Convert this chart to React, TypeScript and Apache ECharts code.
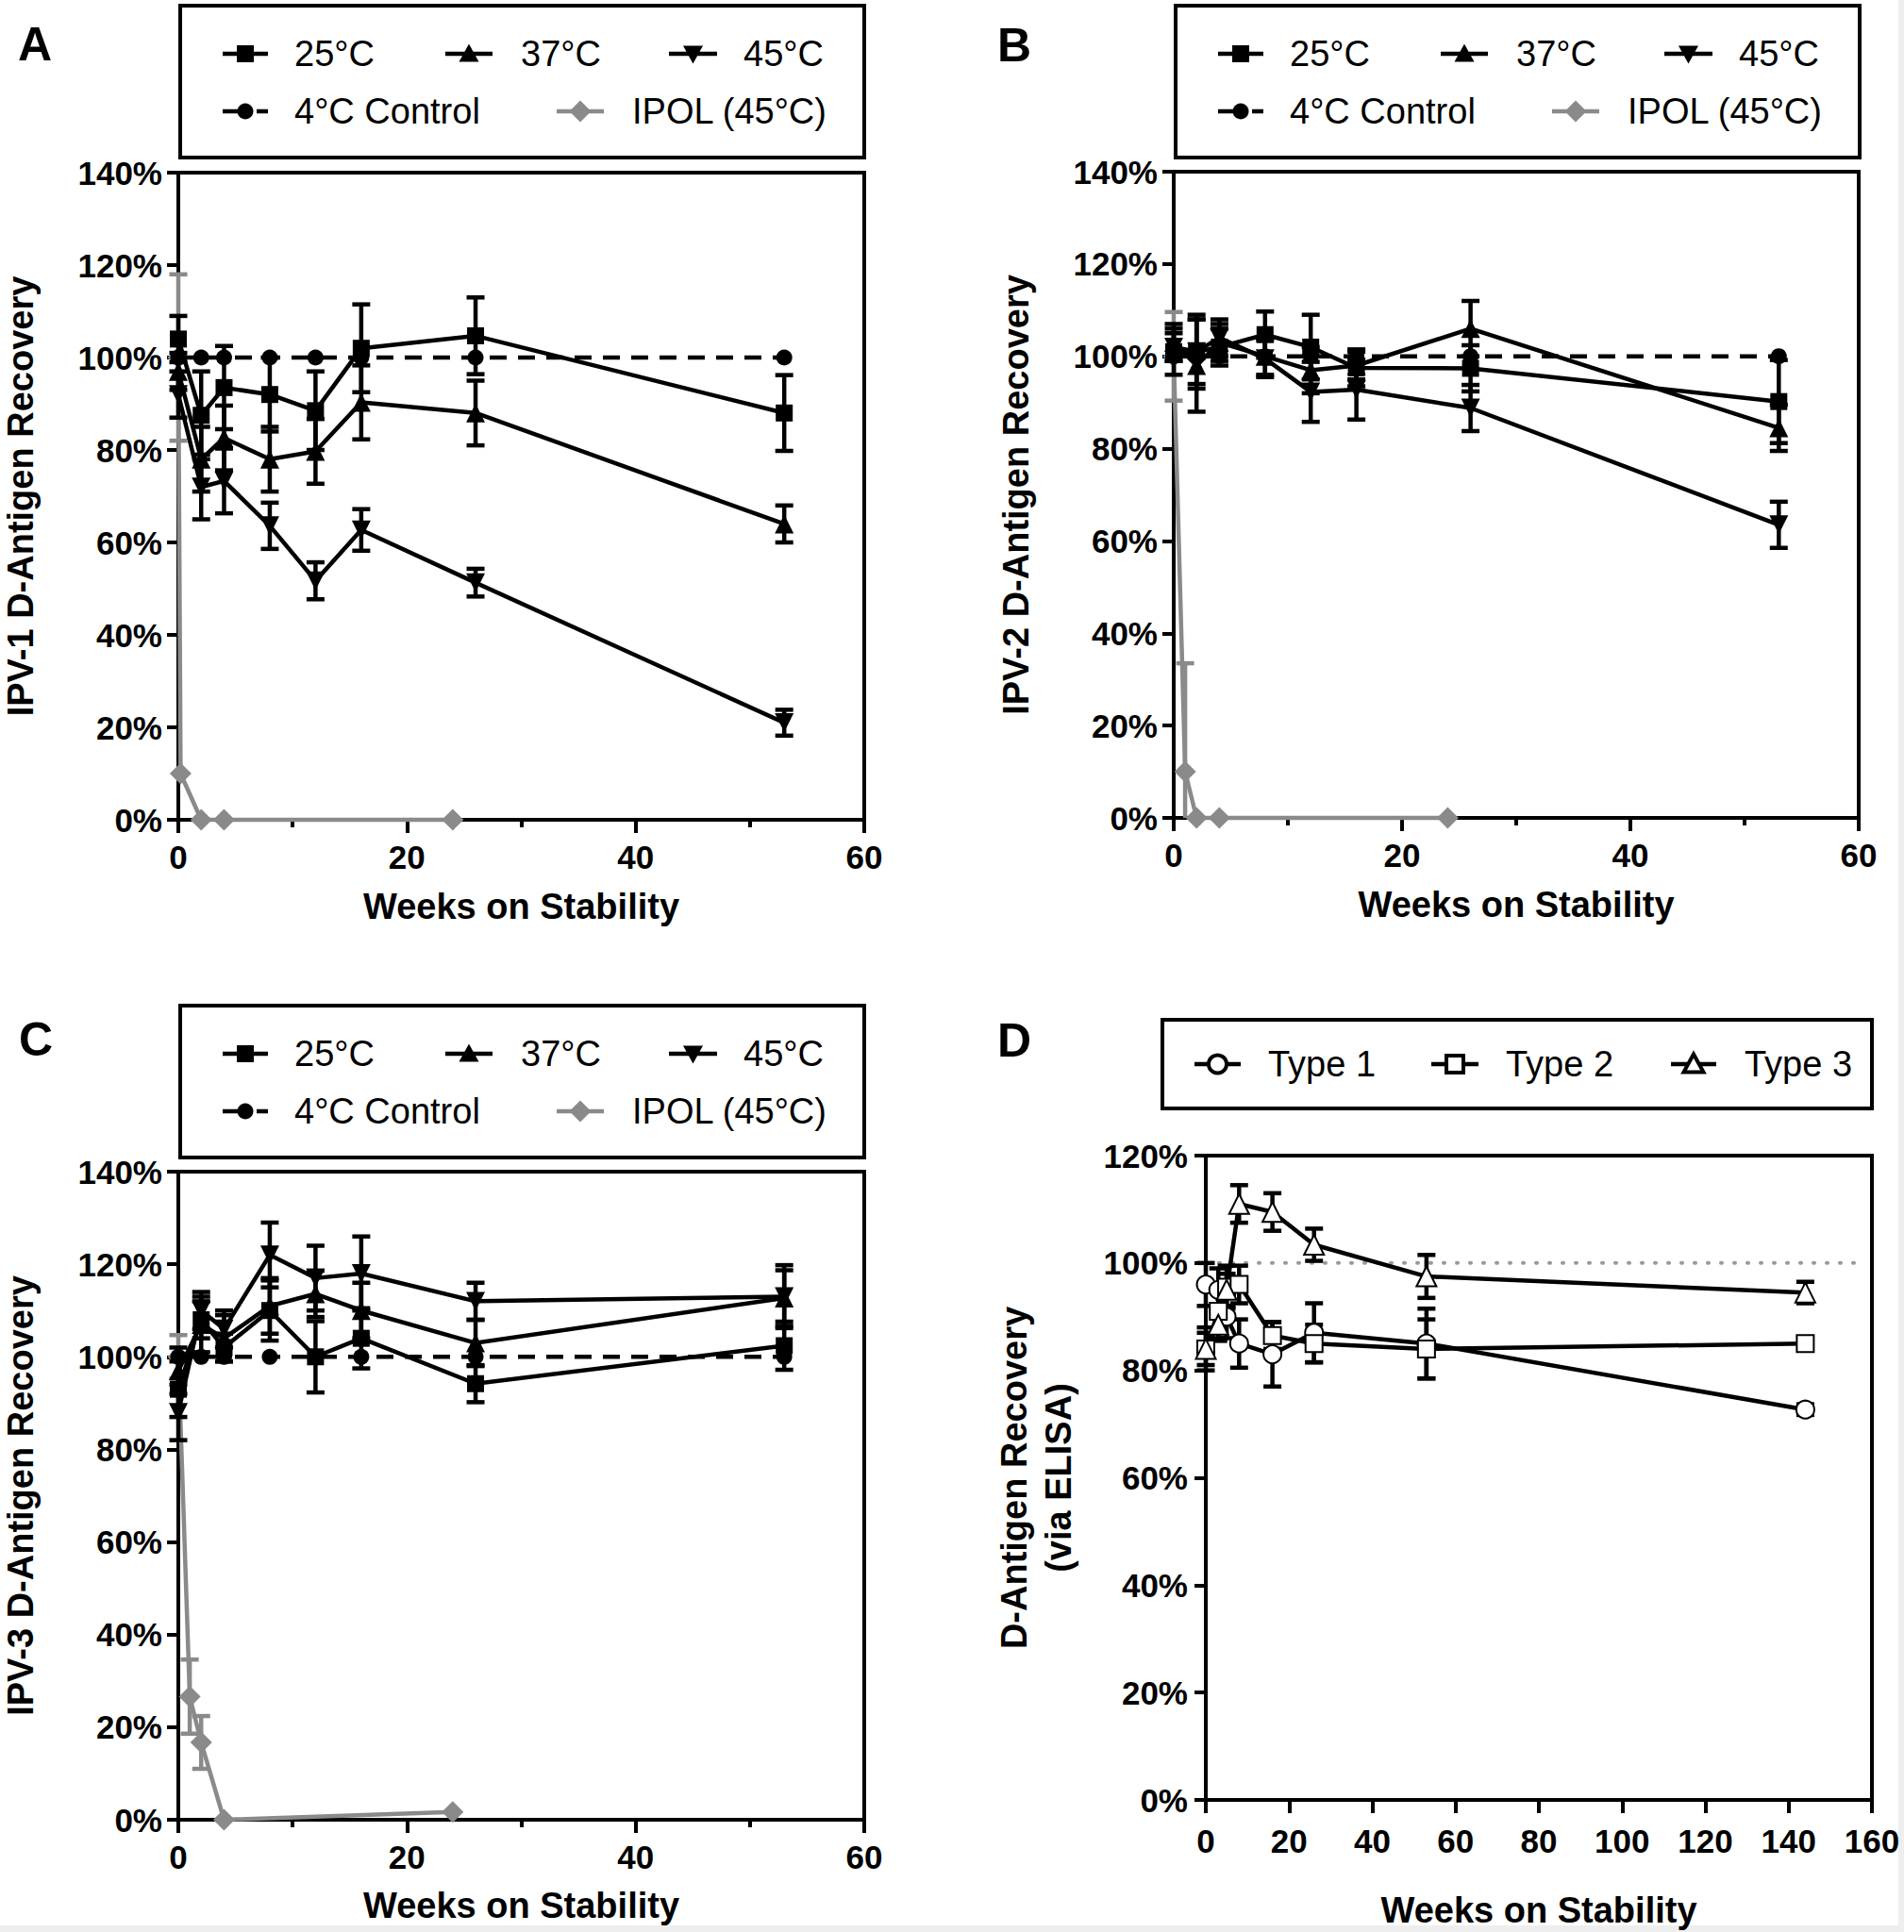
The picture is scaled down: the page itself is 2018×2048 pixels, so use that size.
import React, { useEffect, useRef } from 'react';
import * as echarts from 'echarts';

const FONT = '"Liberation Sans", Arial, Helvetica, sans-serif';
const GRAY = '#8a8a8a';
const BLACK = '#000';

// ---------- Axis ticks ----------
const xTicksABC = [0, 20, 40, 60];
const yTicksABC = [0, 20, 40, 60, 80, 100, 120, 140];
const xTicksD = [0, 20, 40, 60, 80, 100, 120, 140, 160];
const yTicksD = [0, 20, 40, 60, 80, 100, 120];

// ---------- Panel A: IPV-1 ----------
const weeksA = [0, 2, 4, 8, 12, 16, 26, 53];
const a25 = [104, 87.5, 93.5, 92, 88.5, 102, 104.7, 88];
const a25Err = [5, 9.5, 9, 8, 8.5, 9.5, 8.3, 8.2];
const a37 = [97, 78, 82.6, 78, 79.7, 90.3, 88, 64];
const a37Err = [4, 7, 7, 7, 7, 8, 7, 4];
const a45 = [92, 72, 73.3, 63.6, 51.7, 62.7, 51.3, 21];
const a45Err = [5, 7, 7, 5, 4, 4.5, 3, 2.8];
const aCtrl = [100, 100, 100, 100, 100, 100, 100, 100];
const ipolWeeksA = [0, 0.2, 2, 4, 24];
const aIpol = [100, 10, 0, 0, 0];
const aIpolErr = [18, 0, 0, 0, 0];

// ---------- Panel B: IPV-2 ----------
const weeksB = [0, 2, 4, 8, 12, 16, 26, 53];
const b25 = [101, 101, 102, 104.7, 102, 97.5, 97.4, 90.2];
const b25Err = [5, 7, 4, 5, 7, 4, 5, 9];
const b37 = [103, 98, 103, 100, 97, 98, 106, 84.5];
const b37Err = [4, 10, 4, 4, 5, 3, 6, 5];
const b45 = [102, 101, 104, 99.5, 92.3, 92.8, 88.8, 63.5];
const b45Err = [3, 8, 4, 4, 6.5, 6.5, 5, 5];
const bCtrl = [100, 100, 100, 100, 100, 100, 100, 100];
const ipolWeeksB = [0, 1, 2, 4, 24];
const bIpol = [100, 10, 0, 0, 0];
const bIpolErr = [9.6, 23.5, 0, 0, 0];

// ---------- Panel C: IPV-3 ----------
const weeksC = [0, 2, 4, 8, 12, 16, 26, 53];
const c25 = [93, 108, 102, 110, 100, 104, 94.2, 102.4];
const c25Err = [6, 4, 3, 6.5, 7.7, 6.5, 4, 5.2];
const c37 = [97, 107, 104, 111, 113.6, 110, 103, 112.7];
const c37Err = [5, 6, 5, 6, 5, 6, 5, 6];
const c45 = [88, 110, 106, 122, 117, 118, 112, 113];
const c45Err = [6, 4, 4, 7, 7, 8, 4, 6.8];
const cCtrl = [100, 100, 100, 100, 100, 100, 100, 100];
const ipolWeeksC = [0, 1, 2, 4, 24];
const cIpol = [100, 26.6, 16.7, 0, 1.7];
const cIpolErr = [4.7, 8, 5.7, 0, 0];

// ---------- Panel D: ELISA ----------
const weeksD = [0, 3, 5, 8, 16, 26, 53, 144];
const dType1 = [96, 95, 90, 85, 83, 87, 85, 72.7];
const dType1Err = [4, 4, 4, 4.5, 6, 5.5, 6.5, 1];
const dType2 = [84, 91, 95.5, 96, 86.5, 85, 84, 85];
const dType2Err = [4, 5, 4, 3.5, 2.5, 3.5, 5.5, 1];
const dType3 = [84, 88.5, 95, 111, 109.5, 103.4, 97.5, 94.5];
const dType3Err = [3, 3, 3, 3.5, 3.5, 3, 4, 2];
const refWeeksD = [0, 158];
const refD = [100, 100];

// ---------- Layout ----------
const grids = [
  { left: 189, top: 183, width: 727, height: 686 },
  { left: 1244, top: 182, width: 726, height: 685 },
  { left: 189, top: 1242, width: 727, height: 687 },
  { left: 1278, top: 1225, width: 706, height: 683 },
];

const LW = 4.5;

function errSeries(idx: number, weeks: number[], vals: number[], errs: number[], color: string, z: number) {
  const data = weeks.map((w, i) => [w, vals[i], errs[i]]).filter((d) => d[2] > 0);
  return {
    type: 'custom',
    xAxisIndex: idx,
    yAxisIndex: idx,
    z,
    silent: true,
    clip: false,
    data,
    encode: { x: 0, y: 1 },
    renderItem: (params: any, api: any) => {
      const x = api.value(0);
      const v = api.value(1);
      const e = api.value(2);
      const hi = api.coord([x, v + e]);
      const lo = api.coord([x, Math.max(0, v - e)]);
      const hw = 9.5;
      const style = { stroke: color, lineWidth: LW };
      const children: any[] = [
        { type: 'line', shape: { x1: hi[0], y1: hi[1], x2: lo[0], y2: lo[1] }, style },
        { type: 'line', shape: { x1: hi[0] - hw, y1: hi[1], x2: hi[0] + hw, y2: hi[1] }, style },
      ];
      if (v - e >= 0) {
        children.push({ type: 'line', shape: { x1: lo[0] - hw, y1: lo[1], x2: lo[0] + hw, y2: lo[1] }, style });
      }
      return { type: 'group', children };
    },
  };
}

function lineSeries(idx: number, name: string, weeks: number[], vals: number[], o: any) {
  return {
    type: 'line',
    name,
    xAxisIndex: idx,
    yAxisIndex: idx,
    z: o.z ?? 4,
    clip: false,
    data: weeks.map((w, i) => [w, vals[i]]),
    symbol: o.symbol,
    symbolSize: o.size,
    symbolRotate: o.rotate ?? 0,
    showAllSymbol: true,
    lineStyle: { color: o.color, width: o.width ?? LW, type: o.dash ?? 'solid', cap: o.cap ?? 'butt' },
    itemStyle: o.hollow
      ? { color: o.color, borderColor: o.color, borderWidth: 4 }
      : { color: o.color, borderWidth: 0 },
    emphasis: { disabled: true },
    silent: true,
  };
}

function tempPanel(
  idx: number, weeks: number[],
  s25: number[], e25: number[], s37: number[], e37: number[], s45: number[], e45: number[],
  ctrl: number[], iw: number[], ipol: number[], ipolErr: number[],
) {
  return [
    errSeries(idx, iw, ipol, ipolErr, GRAY, 1),
    lineSeries(idx, 'IPOL (45°C)', iw, ipol, { symbol: 'diamond', size: 23, color: GRAY, z: 2 }),
    errSeries(idx, weeks, s45, e45, BLACK, 3),
    errSeries(idx, weeks, s37, e37, BLACK, 3),
    errSeries(idx, weeks, s25, e25, BLACK, 3),
    lineSeries(idx, '4°C Control', weeks, ctrl, { symbol: 'circle', size: 17, color: BLACK, dash: [18, 12] }),
    lineSeries(idx, '45°C', weeks, s45, { symbol: 'triangle', size: 20, rotate: 180, color: BLACK }),
    lineSeries(idx, '37°C', weeks, s37, { symbol: 'triangle', size: 20, color: BLACK }),
    lineSeries(idx, '25°C', weeks, s25, { symbol: 'rect', size: 18, color: BLACK }),
  ];
}

function xAxisCfg(gridIndex: number, ticks: number[], nameGap: number, margin: number, minor: boolean) {
  return {
    type: 'value',
    gridIndex,
    min: ticks[0],
    max: ticks[ticks.length - 1],
    interval: ticks[1] - ticks[0],
    name: 'Weeks on Stability',
    nameLocation: 'middle',
    nameGap,
    nameTextStyle: { fontSize: 38, fontWeight: 'bold', color: BLACK, fontFamily: FONT },
    axisLine: { show: true, onZero: false, lineStyle: { color: BLACK, width: 4 } },
    axisTick: { show: true, length: 14, lineStyle: { color: BLACK, width: 4 } },
    minorTick: { show: minor, splitNumber: 2, length: 8, lineStyle: { color: BLACK, width: 4 } },
    splitLine: { show: false },
    minorSplitLine: { show: false },
    axisLabel: { margin, fontSize: 35, fontWeight: 'bold', color: BLACK, fontFamily: FONT },
  };
}

function yAxisCfg(gridIndex: number, ticks: number[], name: string, nameGap: number, margin: number) {
  return {
    type: 'value',
    gridIndex,
    min: ticks[0],
    max: ticks[ticks.length - 1],
    interval: ticks[1] - ticks[0],
    name,
    nameLocation: 'middle',
    nameGap,
    nameTextStyle: { fontSize: 38, fontWeight: 'bold', color: BLACK, fontFamily: FONT, lineHeight: 47 },
    axisLine: { show: true, onZero: false, lineStyle: { color: BLACK, width: 4 } },
    axisTick: { show: true, length: 12, lineStyle: { color: BLACK, width: 4 } },
    splitLine: { show: false },
    axisLabel: { margin, fontSize: 35, fontWeight: 'bold', color: BLACK, fontFamily: FONT, formatter: '{value}%' },
  };
}

// ---------- Legend drawing (graphic) ----------
function markerEl(kind: string, cx: number, cy: number, color: string, hollow = false): any {
  const style: any = hollow ? { fill: '#fff', stroke: color, lineWidth: 4 } : { fill: color };
  switch (kind) {
    case 'rect':
      return { type: 'rect', shape: { x: cx - 9, y: cy - 9, width: 18, height: 18 }, style };
    case 'circle':
      return { type: 'circle', shape: { cx, cy, r: hollow ? 9.5 : 8.5 }, style };
    case 'tri':
      return { type: 'polygon', shape: { points: [[cx, cy - 10.5], [cx + 10.5, cy + 8.5], [cx - 10.5, cy + 8.5]] }, style };
    case 'itri':
      return { type: 'polygon', shape: { points: [[cx, cy + 10.5], [cx + 10.5, cy - 8.5], [cx - 10.5, cy - 8.5]] }, style };
    case 'diamond':
      return { type: 'polygon', shape: { points: [[cx, cy - 11.5], [cx + 11.5, cy], [cx, cy + 11.5], [cx - 11.5, cy]] }, style };
    default:
      return { type: 'circle', shape: { cx, cy, r: 8 }, style };
  }
}

function legendItem(x1: number, x2: number, y: number, color: string, dash: any, kind: string, label: string, tx: number, hollow = false) {
  const els: any[] = [];
  const ls: any = { stroke: color, lineWidth: LW };
  if (dash) ls.lineDash = dash;
  els.push({ type: 'line', shape: { x1, y1: y, x2, y2: y }, style: ls, silent: true });
  els.push({ ...markerEl(kind, (x1 + x2) / 2, y, color, hollow), silent: true });
  els.push({
    type: 'text', x: tx, y, silent: true,
    style: { text: label, fontSize: 38, fontFamily: FONT, fill: BLACK, align: 'left', verticalAlign: 'middle' },
  });
  return els;
}

function tempLegend(ox: number, oy: number) {
  const r1 = oy + 57;
  const r2 = oy + 118;
  return [
    { type: 'rect', silent: true, shape: { x: ox + 191, y: oy + 6, width: 725, height: 161 }, style: { fill: '#fff', stroke: BLACK, lineWidth: 4 } },
    ...legendItem(ox + 236, ox + 284, r1, BLACK, null, 'rect', '25°C', ox + 312),
    ...legendItem(ox + 472, ox + 522, r1, BLACK, null, 'tri', '37°C', ox + 552),
    ...legendItem(ox + 709, ox + 760, r1, BLACK, null, 'itri', '45°C', ox + 788),
    ...legendItem(ox + 236, ox + 284, r2, BLACK, [16, 20], 'circle', '4°C Control', ox + 312),
    ...legendItem(ox + 590, ox + 640, r2, GRAY, null, 'diamond', 'IPOL (45°C)', ox + 670),
  ];
}

function dLegend() {
  const y = 1128;
  return [
    { type: 'rect', silent: true, shape: { x: 1232, y: 1081, width: 752, height: 94 }, style: { fill: '#fff', stroke: BLACK, lineWidth: 4 } },
    ...legendItem(1266, 1315, y, BLACK, null, 'circle', 'Type 1', 1344, true),
    ...legendItem(1517, 1567, y, BLACK, null, 'rect', 'Type 2', 1596, true),
    ...legendItem(1771, 1819, y, BLACK, null, 'tri', 'Type 3', 1849, true),
  ];
}

function panelLetter(letter: string, x: number, y: number) {
  return {
    type: 'text', x, y, silent: true,
    style: { text: letter, fontSize: 50, fontWeight: 'bold', fontFamily: FONT, fill: BLACK, align: 'left', verticalAlign: 'middle' },
  };
}

function buildOption(): any {
  const series: any[] = [
    ...tempPanel(0, weeksA, a25, a25Err, a37, a37Err, a45, a45Err, aCtrl, ipolWeeksA, aIpol, aIpolErr),
    ...tempPanel(1, weeksB, b25, b25Err, b37, b37Err, b45, b45Err, bCtrl, ipolWeeksB, bIpol, bIpolErr),
    ...tempPanel(2, weeksC, c25, c25Err, c37, c37Err, c45, c45Err, cCtrl, ipolWeeksC, cIpol, cIpolErr),
    lineSeries(3, 'ref', refWeeksD, refD, { symbol: 'none', size: 0, color: '#999', width: 4, dash: [1, 13], cap: 'round', z: 1 }),
    errSeries(3, weeksD, dType1, dType1Err, BLACK, 3),
    errSeries(3, weeksD, dType2, dType2Err, BLACK, 3),
    errSeries(3, weeksD, dType3, dType3Err, BLACK, 3),
    lineSeries(3, 'Type 1', weeksD, dType1, { symbol: 'emptyCircle', size: 19, color: BLACK, hollow: true }),
    lineSeries(3, 'Type 2', weeksD, dType2, { symbol: 'emptyRect', size: 18, color: BLACK, hollow: true }),
    lineSeries(3, 'Type 3', weeksD, dType3, { symbol: 'emptyTriangle', size: 21, color: BLACK, hollow: true }),
  ];

  return {
    animation: false,
    backgroundColor: '#fff',
    textStyle: { fontFamily: FONT },
    grid: grids.map((g) => ({
      ...g,
      show: true,
      borderColor: BLACK,
      borderWidth: 4,
      backgroundColor: 'transparent',
      containLabel: false,
      outerBoundsMode: 'none',
    })),
    xAxis: [
      xAxisCfg(0, xTicksABC, 73, 22, true),
      xAxisCfg(1, xTicksABC, 73, 22, true),
      xAxisCfg(2, xTicksABC, 72, 22, true),
      xAxisCfg(3, xTicksD, 98, 26, false),
    ],
    yAxis: [
      yAxisCfg(0, yTicksABC, 'IPV-1 D-Antigen Recovery', 144, 17),
      yAxisCfg(1, yTicksABC, 'IPV-2 D-Antigen Recovery', 144, 17),
      yAxisCfg(2, yTicksABC, 'IPV-3 D-Antigen Recovery', 144, 17),
      yAxisCfg(3, yTicksD, 'D-Antigen Recovery\n(via ELISA)', 133, 19),
    ],
    series,
    graphic: {
      elements: [
        ...tempLegend(0, 0),
        ...tempLegend(1055, 0),
        ...tempLegend(0, 1060),
        ...dLegend(),
        panelLetter('A', 19, 47),
        panelLetter('B', 1057, 48),
        panelLetter('C', 20, 1102),
        panelLetter('D', 1057, 1103),
        { type: 'rect', silent: true, shape: { x: 2012, y: 0, width: 6, height: 2048 }, style: { fill: '#eeeeee' } },
        { type: 'rect', silent: true, shape: { x: 0, y: 2041, width: 2018, height: 7 }, style: { fill: '#eeeeee' } },
      ],
    },
  };
}

export default function App() {
  const ref = useRef<HTMLDivElement>(null);
  useEffect(() => {
    if (!ref.current) return;
    const chart = echarts.init(ref.current, null, { renderer: 'svg' });
    chart.setOption(buildOption());
    return () => {
      chart.dispose();
    };
  }, []);
  return (
    <div
      ref={ref}
      style={{ position: 'absolute', left: 0, top: 0, width: 2018, height: 2048, background: '#fff' }}
    />
  );
}
